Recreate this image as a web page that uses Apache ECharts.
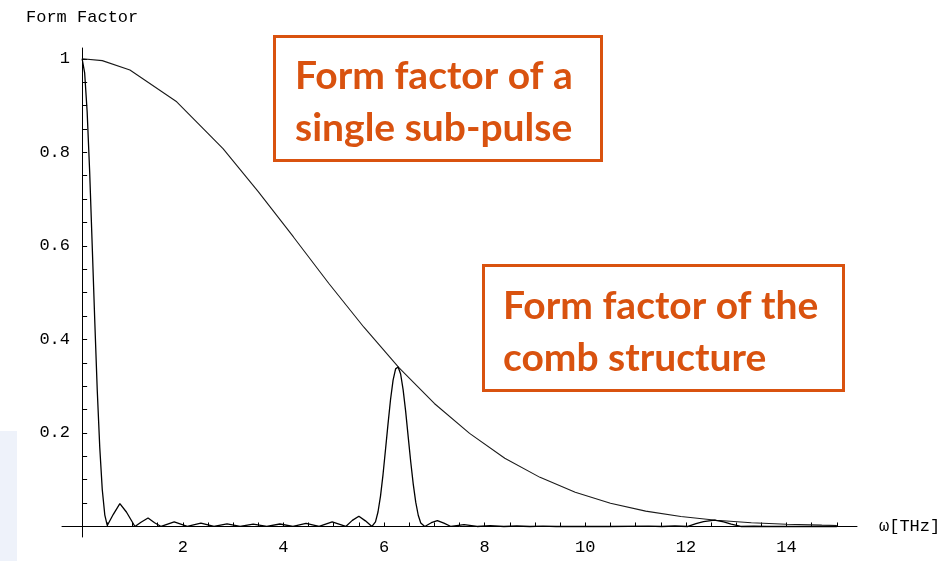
<!DOCTYPE html>
<html>
<head>
<meta charset="utf-8">
<title>Form Factor</title>
<script src="https://cdn.jsdelivr.net/npm/echarts@6/dist/echarts.min.js"></script>
<style>
  html, body { margin: 0; padding: 0; background: #ffffff; }
  #chart { width: 949px; height: 561px; }
</style>
</head>
<body>
<div id="chart"></div>
<script>
// Angular frequency axis (THz) and tick positions
const xLabelValues = [2, 4, 6, 8, 10, 12, 14];
const xTickValues = [0.5, 1, 1.5, 2, 2.5, 3, 3.5, 4, 4.5, 5, 5.5, 6, 6.5, 7, 7.5, 8,
  8.5, 9, 9.5, 10, 10.5, 11, 11.5, 12, 12.5, 13, 13.5, 14, 14.5, 15];
const yLabelValues = [0.2, 0.4, 0.6, 0.8, 1];
const yTickValues = [0.05, 0.1, 0.15, 0.2, 0.25, 0.3, 0.35, 0.4, 0.45, 0.5, 0.55, 0.6,
  0.65, 0.7, 0.75, 0.8, 0.85, 0.9, 0.95, 1];

// Form factor of a single sub-pulse
const subPulseOmega = [0, 0.4, 0.95, 1.88, 2.8, 3.5, 4.2, 4.9, 5.6, 6.3, 7.0, 7.7, 8.4,
  9.1, 9.8, 10.5, 11.2, 11.9, 12.6, 13.3, 14.0, 14.7, 15.0];
const subPulseFF = [1, 0.996, 0.976, 0.908, 0.808, 0.716, 0.619, 0.520, 0.426, 0.339,
  0.263, 0.199, 0.146, 0.105, 0.0732, 0.0497, 0.0329, 0.0212, 0.0133, 0.0081, 0.0048,
  0.0028, 0.0022];

// Form factor of the comb structure
const combOmega = [0, 0.05, 0.1, 0.15, 0.2, 0.25, 0.3, 0.35, 0.4, 0.45, 0.5, 0.52,
  0.62, 0.75, 0.88, 1.05, 1.17, 1.31, 1.44, 1.57, 1.83, 2.09, 2.36, 2.62, 2.88, 3.14,
  3.40, 3.67, 3.93, 4.19, 4.45, 4.71, 4.97, 5.24, 5.37, 5.5, 5.63, 5.76,
  5.83, 5.88, 5.93, 5.98, 6.03, 6.08, 6.13, 6.18, 6.23, 6.28, 6.33, 6.38, 6.43, 6.48,
  6.53, 6.58, 6.63, 6.68, 6.73, 6.81, 6.94, 7.06, 7.19, 7.33, 7.59, 7.85, 8.11, 8.38,
  8.64, 8.9, 9.16, 9.42, 10.47, 11.26, 11.52, 11.78, 12.04, 12.2, 12.35, 12.57, 12.75,
  12.9, 13.09, 13.35, 13.61, 15.0];
const combFF = [1, 0.97, 0.886, 0.758, 0.602, 0.443, 0.293, 0.17, 0.079, 0.025, 0.002, 0,
  0.026, 0.049, 0.031, 0, 0.009, 0.018, 0.008, 0, 0.010, 0, 0.007, 0, 0.0057, 0,
  0.0052, 0, 0.0053, 0, 0.0064, 0, 0.0097, 0, 0.013, 0.022, 0.012, 0,
  0.010, 0.031, 0.065, 0.111, 0.165, 0.220, 0.272, 0.313, 0.337, 0.341, 0.326, 0.292,
  0.246, 0.192, 0.139, 0.091, 0.052, 0.024, 0.0074, 0, 0.008, 0.0127, 0.007, 0, 0.004,
  0, 0.0018, 0, 0.001, 0, 0.0007, 0, 0, 0.0006, 0, 0.001, 0, 0.006, 0.0105, 0.0136,
  0.010, 0.005, 0, 0.0005, 0, 0];

const zip = (xs, ys) => xs.map((x, i) => [x, ys[i]]);

const monoFont = '"Liberation Mono", "DejaVu Sans Mono", monospace';
const calloutFont = 'Lato, "Open Sans", sans-serif';
const calloutColor = '#D9520F';
const ink = '#000000';

const chart = echarts.init(document.getElementById('chart'), null, { renderer: 'canvas' });

chart.setOption({
  animation: false,
  backgroundColor: '#ffffff',
  grid: { left: 62, right: 92, top: 48, bottom: 24, containLabel: false },
  xAxis: {
    type: 'value',
    min: -0.4,
    max: 15.4,
    name: 'ω[THz]',
    nameLocation: 'end',
    nameGap: 22,
    nameTextStyle: { fontFamily: monoFont, fontSize: 17, color: ink, align: 'left', verticalAlign: 'middle' },
    axisLine: { onZero: true, lineStyle: { color: '#000', width: 1 } },
    axisTick: { show: true, inside: true, length: 4, customValues: xTickValues, lineStyle: { color: '#000', width: 1 } },
    axisLabel: { customValues: xLabelValues, fontFamily: monoFont, fontSize: 17, color: ink, margin: 2 },
    splitLine: { show: false }
  },
  yAxis: {
    type: 'value',
    min: -0.0225,
    max: 1.023,
    name: 'Form Factor',
    nameLocation: 'end',
    nameGap: 22,
    nameTextStyle: { fontFamily: monoFont, fontSize: 17, color: ink, align: 'center', verticalAlign: 'bottom' },
    axisLine: { onZero: true, lineStyle: { color: '#000', width: 1 } },
    axisTick: { show: true, inside: true, length: 5, customValues: yTickValues, lineStyle: { color: '#000', width: 1 } },
    axisLabel: { customValues: yLabelValues, fontFamily: monoFont, fontSize: 17, color: ink, margin: -8 },
    splitLine: { show: false }
  },
  series: [
    {
      name: 'single sub-pulse',
      type: 'line',
      data: zip(subPulseOmega, subPulseFF),
      showSymbol: false,
      smooth: false,
      lineStyle: { color: '#1a1a1a', width: 1.1 },
      z: 2
    },
    {
      name: 'comb structure',
      type: 'line',
      data: zip(combOmega, combFF),
      showSymbol: false,
      smooth: false,
      lineStyle: { color: '#000', width: 1.3 },
      z: 3
    }
  ],
  graphic: [
    {
      type: 'rect',
      shape: { x: 0, y: 431, width: 17, height: 130 },
      style: { fill: '#EEF2FA' },
      z: -10
    },
    {
      type: 'group',
      children: [
        {
          type: 'rect',
          shape: { x: 274.5, y: 36.5, width: 327, height: 124 },
          style: { fill: '#ffffff', stroke: calloutColor, lineWidth: 3 }
        },
        {
          type: 'text',
          style: { x: 295, y: 76, text: 'Form factor of a', fill: calloutColor,
            font: 'bold 39px ' + calloutFont, verticalAlign: 'middle', align: 'left' }
        },
        {
          type: 'text',
          style: { x: 295, y: 128, text: 'single sub-pulse', fill: calloutColor,
            font: 'bold 39px ' + calloutFont, verticalAlign: 'middle', align: 'left' }
        },
        {
          type: 'rect',
          shape: { x: 483.5, y: 265.5, width: 360, height: 125 },
          style: { fill: '#ffffff', stroke: calloutColor, lineWidth: 3 }
        },
        {
          type: 'text',
          style: { x: 503, y: 306, text: 'Form factor of the', fill: calloutColor,
            font: 'bold 39px ' + calloutFont, verticalAlign: 'middle', align: 'left' }
        },
        {
          type: 'text',
          style: { x: 503, y: 358, text: 'comb structure', fill: calloutColor,
            font: 'bold 39px ' + calloutFont, verticalAlign: 'middle', align: 'left' }
        }
      ],
      z: 100
    }
  ]
});
</script>
</body>
</html>
